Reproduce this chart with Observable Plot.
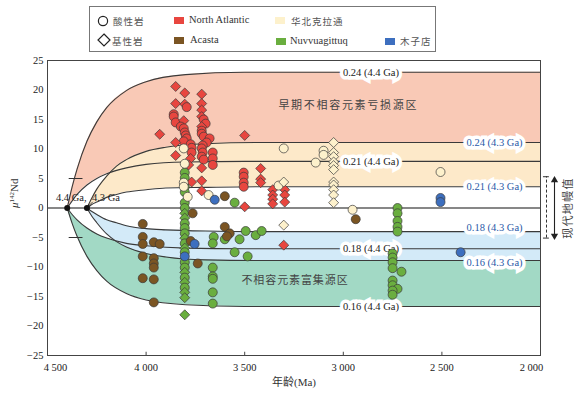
<!DOCTYPE html>
<html><head><meta charset="utf-8">
<script src="https://cdn.jsdelivr.net/npm/d3@7"></script>
<script src="https://cdn.jsdelivr.net/npm/@observablehq/plot@0.6"></script>
<style>
body{margin:0;background:#fff;}
#wrap{position:relative;width:584px;height:397px;overflow:hidden;}
#legend{position:relative;width:584px;height:56px;font-family:"Liberation Serif","Times New Roman","DejaVu Serif","Noto Sans CJK SC",serif;}
#legend .box{position:absolute;left:89px;top:6px;width:347px;height:46px;border:1px solid #777;box-sizing:border-box;}
#legend .item{position:absolute;font-size:10.5px;color:#333;line-height:12px;white-space:nowrap;}
#legend .cjk{font-family:"Noto Sans CJK SC",sans-serif;font-size:9.5px;letter-spacing:1px;color:#555;}
#legend .sw{position:absolute;width:10px;height:7px;}
#legend svg{position:absolute;overflow:visible;}
#chart svg{display:block;font-family:"Liberation Serif","Times New Roman","DejaVu Serif","Noto Sans CJK SC",serif !important;font-size:10.5px !important;}
</style></head>
<body>
<div id="wrap"><div id="legend"><div class="box"></div></div><div id="chart"></div></div>
<script>
// ---------- data ----------
// model evolution curves (age in Ma, mu142Nd)
const ages44 = [4400,4375,4350,4300,4250,4200,4100,4000,3800,3500,3000,2000];
const ages43 = [4300,4275,4250,4200,4150,4100,4000,3900,3700,3400,2900,2000];
const mu024_44 = [0,3.6,6.6,11.3,14.6,17.0,19.9,21.4,22.6,23.0,23.0,23.0];
const mu021_44 = [0,1.2,2.3,3.9,5.0,5.8,6.8,7.4,7.8,7.9,7.9,7.9];
const mu018_44 = [0,-1.1,-2.0,-3.4,-4.4,-5.1,-6.0,-6.4,-6.8,-6.9,-6.9,-6.9];
const mu016_44 = [0,-2.6,-4.8,-8.2,-10.6,-12.4,-14.5,-15.6,-16.4,-16.7,-16.7,-16.7];
const mu024_43 = [0,1.7,3.2,5.4,7.1,8.2,9.6,10.3,10.9,11.1,11.1,11.1];
const mu021_43 = [0,0.6,1.0,1.8,2.3,2.7,3.1,3.4,3.5,3.6,3.6,3.6];
const mu018_43 = [0,-0.6,-1.1,-2.0,-2.5,-3.0,-3.5,-3.7,-3.9,-4.0,-4.0,-4.0];
const mu016_43 = [0,-1.4,-2.5,-4.4,-5.7,-6.6,-7.7,-8.3,-8.8,-8.9,-8.9,-8.9];

const curveLabels44 = ["0.24 (4.4 Ga)","0.21 (4.4 Ga)","0.18 (4.4 Ga)","0.16 (4.4 Ga)"];
const curveLabelMu44 = [23.0, 7.9, -6.9, -16.7];
const curveLabelAge44 = 2860;
const curveLabels43 = ["0.24 (4.3 Ga)","0.21 (4.3 Ga)","0.18 (4.3 Ga)","0.16 (4.3 Ga)"];
const curveLabelMu43 = [11.1, 3.6, -3.4, -9.2];
const curveLabelAge43 = 2233;

const startAges = [4400, 4300];
const startLabels = ["4.4 Ga,", "4.3 Ga"];
const pointerFrom = [4272, 1.0];
const pointerTo = [4294, 0.25];

const regionTexts = ["早期不相容元素亏损源区", "不相容元素富集源区"];
const regionTextAge = [2975, 3245];
const regionTextMu = [17.4, -12.3];

const mantleRange = [-5.1, 5.3];
const mantleArrow = [-4.7, 4.7];
const mantleText = "现代地幔值";

const xTicks = [4500,4000,3500,3000,2500,2000];
const yTicks = [-25,-20,-15,-10,-5,0,5,10,15,20,25];

// samples: [age (Ma), mu142Nd, type c=酸性岩 circle, d=基性岩 diamond]
const northAtlantic = [
 [3850,20.6,"d"],[3804,19.5,"d"],[3850,17.7,"d"],[3804,17.6,"d"],[3794,17.1,"c"],
 [3860,15.9,"c"],[3860,15.5,"c"],[3850,14.5,"c"],[3809,14.8,"d"],[3824,13.8,"c"],
 [3809,13.5,"c"],[3804,12.8,"c"],[3799,12.3,"c"],[3794,11.8,"c"],[3809,11.3,"c"],
 [3931,12.5,"d"],[3850,11.1,"d"],[3774,10.8,"c"],[3769,10.2,"c"],[3769,9.4,"c"],
 [3850,8.9,"d"],[3774,8.4,"d"],[3784,7.3,"d"],[3769,4.4,"d"],
 [3718,19.3,"d"],[3718,17.7,"d"],[3718,16.6,"d"],[3718,15.5,"d"],[3708,15.0,"c"],
 [3698,14.3,"c"],[3718,13.8,"d"],[3718,13.1,"c"],[3718,12.6,"c"],[3708,12.1,"c"],
 [3678,11.8,"c"],[3693,11.1,"c"],[3713,10.6,"c"],[3718,10.1,"c"],[3713,9.4,"c"],
 [3718,8.7,"c"],[3708,8.2,"c"],[3662,9.4,"c"],[3662,8.4,"c"],[3662,7.3,"c"],
 [3718,6.8,"d"],[3718,4.6,"d"],[3718,2.9,"d"],
 [3500,12.3,"d"],[3505,6.0,"c"],[3505,5.3,"c"],[3505,4.3,"c"],[3505,3.6,"c"],
 [3419,6.7,"d"],[3419,4.9,"d"],[3419,4.3,"d"],
 [3358,3.1,"d"],[3358,2.2,"d"],[3358,1.5,"d"],[3358,0.7,"d"],
 [3297,3.1,"d"],[3297,2.2,"d"],[3297,1.0,"d"],[3500,0.2,"d"],[3302,-6.3,"d"]
];
const northChina = [
 [3809,10.1,"c"],[3804,7.5,"c"],[3809,4.3,"c"],[3809,3.6,"c"],[3789,1.9,"c"],[3683,2.2,"c"],
 [3302,10.1,"c"],[3328,3.8,"c"],[3302,4.4,"d"],[3302,-2.9,"d"],
 [3140,7.7,"c"],[3100,9.7,"c"],[3100,9.0,"c"],
 [3049,11.1,"d"],[3049,9.4,"d"],[3049,8.7,"d"],[3049,7.8,"d"],[3049,7.2,"d"],[3049,6.5,"d"],
 [3049,4.4,"d"],[3049,3.9,"d"],[3049,3.1,"d"],[3049,2.2,"d"],[3049,0.9,"d"],
 [2953,-0.3,"c"],[2507,6.1,"c"]
];
const acasta = [
 [3601,2.0,"c"],[3764,-0.9,"c"],[4017,-2.7,"c"],[4017,-4.9,"c"],[4017,-6.1,"c"],[4017,-8.2,"c"],[4017,-11.9,"c"],
 [3961,-5.8,"c"],[3931,-6.1,"c"],[3961,-8.5,"c"],[3961,-9.4,"c"],[3961,-10.1,"c"],[3961,-12.1,"c"],[3961,-16.0,"c"],
 [3774,-5.6,"c"],[3738,-9.4,"c"],[3601,-3.2,"c"],[3576,-4.3,"c"],[3590,-4.8,"c"],[2937,-1.9,"c"]
];
const nuvvuagittuq = [
 [3804,6.0,"c"],[3804,5.1,"c"],[3804,3.6,"c"],[3804,2.7,"c"],[3804,0.9,"c"],[3804,0,"c"],
 [3804,-0.9,"d"],[3804,-1.7,"d"],[3804,-2.6,"c"],[3804,-3.4,"c"],[3804,-4.3,"c"],[3804,-5.1,"d"],
 [3804,-6.0,"c"],[3804,-6.8,"d"],[3804,-7.5,"c"],[3804,-9.2,"c"],[3804,-10.1,"c"],[3804,-10.9,"d"],
 [3804,-11.8,"c"],[3804,-12.6,"d"],[3804,-13.5,"c"],[3804,-14.3,"d"],[3804,-15.2,"d"],[3804,-18.1,"d"],
 [3551,0.9,"c"],[3662,-10.1,"c"],[3662,-11.6,"c"],[3662,-12.0,"c"],[3662,-14.3,"c"],[3662,-16.2,"c"],
 [3657,-4.9,"c"],[3662,-6.0,"c"],[3601,-5.3,"c"],[3526,-5.3,"c"],[3495,-3.9,"c"],[3444,-4.6,"c"],
 [3414,-3.9,"c"],[3551,-7.5,"c"],[3485,-8.2,"c"],
 [2725,0,"c"],[2725,-0.9,"c"],[2725,-2.2,"c"],[2725,-3.2,"c"],[2725,-4.0,"c"],
 [2750,-7.7,"c"],[2750,-8.4,"c"],[2750,-9.2,"c"],[2750,-10.2,"c"],[2705,-10.8,"c"],
 [2750,-12.3,"c"],[2750,-13.1,"c"],[2725,-13.7,"c"],[2750,-14.0,"c"],[2750,-14.7,"c"]
];
const muzidian = [
 [3652,1.4,"c"],[3754,-6.1,"c"],[3804,-8.2,"c"],[2507,1.7,"c"],[2507,1.0,"c"],[2405,-7.5,"c"]
];

const regionNames = ["North Atlantic","华北克拉通","Acasta","Nuvvuagittuq","木子店"];
const regionColors = ["#e8463f","#fdf1cc","#7b5523","#6aae3f","#3d6fbf"];

// ---------- build ----------
const colorOf = Object.fromEntries(regionNames.map((n,i)=>[n, regionColors[i]]));
const drawOrder = [["Nuvvuagittuq", nuvvuagittuq],["Acasta", acasta],["North Atlantic", northAtlantic],["华北克拉通", northChina],["木子店", muzidian]];
const points = drawOrder.flatMap(([name, arr]) => arr.map(([age, mu, t]) => ({age, mu, t, color: colorOf[name]})));

const band = (ages, lo, hi) => ages.map((a,i)=>({age:a, lo:lo[i], hi:hi[i]}));
const curve = (ages, mu) => ages.map((a,i)=>({age:a, mu:mu[i]}));
const curves = [
  curve(ages44, mu024_44), curve(ages44, mu021_44), curve(ages44, mu018_44), curve(ages44, mu016_44),
  curve(ages43, mu024_43), curve(ages43, mu021_43), curve(ages43, mu018_43), curve(ages43, mu016_43)
];
const lab44 = curveLabels44.map((t,i)=>({t, age: curveLabelAge44, mu: curveLabelMu44[i]}));
const lab43 = curveLabels43.map((t,i)=>({t, age: curveLabelAge43, mu: curveLabelMu43[i]}));
const regLab = regionTexts.map((t,i)=>({t, age: regionTextAge[i], mu: regionTextMu[i]}));
const fmt = d => { const s = d3.format(",")(Math.abs(d)).replace(",", " "); return d < 0 ? "−" + s : s; };
const cjk = '"Noto Sans CJK SC",sans-serif';
const mc = "monotone-x";

const plot = Plot.plot({
  width: 584, height: 341,
  marginTop: 4, marginBottom: 42, marginLeft: 47, marginRight: 44,
  x: {domain: [4500, 2000], label: null},
  y: {domain: [-25, 25], label: null},
  style: "background: white; overflow: visible; color: #222;",
  marks: [
    Plot.areaY(band(ages44, mu021_44, mu024_44), {x: "age", y1: "lo", y2: "hi", fill: "#f9c9b6", curve: mc}),
    Plot.areaY(band(ages44, mu016_44, mu018_44), {x: "age", y1: "lo", y2: "hi", fill: "#a2d9c5", curve: mc}),
    Plot.areaY(band(ages43, mu021_43, mu024_43), {x: "age", y1: "lo", y2: "hi", fill: "#fde9c9", curve: mc}),
    Plot.areaY(band(ages43, mu016_43, mu018_43), {x: "age", y1: "lo", y2: "hi", fill: "#d3eaf8", curve: mc}),
    Plot.ruleY([0], {stroke: "#111", strokeWidth: 1.1}),
    ...curves.map(c => Plot.line(c, {x: "age", y: "mu", stroke: "#3a3a3a", strokeWidth: 1.1, curve: mc})),
    Plot.ruleY([5, -5], {x1: 4390, x2: 4320, stroke: "#333"}),
    Plot.text(lab44, {x: "age", y: "mu", text: "t", fill: "#222", stroke: "white", strokeWidth: 7, strokeLinejoin: "miter", paintOrder: "stroke", fontSize: 10.5}),
    Plot.text(lab43, {x: "age", y: "mu", text: "t", fill: "#2a5aa8", stroke: "white", strokeWidth: 7, strokeLinejoin: "miter", paintOrder: "stroke", fontSize: 10.5}),
    Plot.dot(points, {x: "age", y: "mu", fill: "color", symbol: d => d.t === "d" ? "diamond2" : "circle", r: 4.5, stroke: "#3a3a3a", strokeWidth: 0.7}),
    Plot.arrow([0], {x1: () => pointerFrom[0], y1: () => pointerFrom[1], x2: () => pointerTo[0], y2: () => pointerTo[1], stroke: "#222", strokeWidth: 0.8, headLength: 4}),
    Plot.dot(startAges, {x: d => d, y: () => 0, r: 3, fill: "#111"}),
    Plot.text([{t: startLabels[0], age: startAges[0]}], {x: "age", y: () => 0, text: "t", dy: -10, dx: 4, fontSize: 10.5, fill: "#222"}),
    Plot.text([{t: startLabels[1], age: startAges[1]}], {x: "age", y: () => 0, text: "t", dy: -10, dx: 19, fontSize: 10.5, fill: "#222"}),
    Plot.text(regLab, {x: "age", y: "mu", text: "t", fontFamily: cjk, fontSize: 11, fill: "#444"}),
    // modern mantle annotation
    Plot.ruleX([2000], {y1: mantleRange[0], y2: mantleRange[1], dx: 6, stroke: "#333", strokeDasharray: "3,2"}),
    Plot.ruleY(mantleRange, {x1: 1985, x2: 1955, stroke: "#333"}),
    Plot.ruleX([2000], {y1: mantleArrow[0], y2: mantleArrow[1], dx: 14, stroke: "#222", strokeWidth: 1.1}),
    Plot.dot(mantleArrow, {x: () => 2000, y: d => d, dx: 14, symbol: "triangle", rotate: d => d > 0 ? 0 : 180, r: 2.7, fill: "#222"}),
    Plot.text([mantleText], {x: () => 2000, y: () => 0, text: d => d, dx: 28, rotate: -90, fontFamily: cjk, fontSize: 11, fill: "#444"}),
    // axes
    Plot.frame({stroke: "#444"}),
    Plot.ruleX(xTicks, {y1: -25, y2: -24.45, stroke: "#444"}),
    Plot.axisX(xTicks.slice(1, -1), {tickSize: 0, tickPadding: 8, tickFormat: fmt, label: null, fontSize: 10.5}),
    Plot.axisX(xTicks.slice(0, 1), {tickSize: 0, tickPadding: 8, tickFormat: fmt, label: null, dx: 8, fontSize: 10.5}),
    Plot.axisX(xTicks.slice(-1), {tickSize: 0, tickPadding: 8, tickFormat: fmt, label: null, dx: -9, fontSize: 10.5}),
    Plot.axisY(yTicks, {tickSize: 0, tickPadding: 4, tickFormat: fmt, label: null, fontSize: 10.5}),
    Plot.text(["年龄(Ma)"], {frameAnchor: "bottom", dy: 30, fontSize: 11, fill: "#333"}),
    Plot.text(["μ142Nd"], {frameAnchor: "left", dx: -33, rotate: -90, fontSize: 11, fill: "#333"})
  ]
});
document.getElementById("chart").appendChild(plot);

// post-process text styling
d3.select(plot).selectAll("text").each(function() {
  const s = this.textContent;
  if (s === "μ142Nd") {
    this.innerHTML = '<tspan font-style="italic">μ</tspan><tspan font-size="7" dy="-4">142</tspan><tspan dy="4">Nd</tspan>';
  } else if (s === regionTexts[0]) {
    this.setAttribute("letter-spacing", "1.7");
  } else if (s === regionTexts[1]) {
    this.setAttribute("letter-spacing", "0.9");
  } else if (s === mantleText) {
    this.setAttribute("letter-spacing", "1.3");
  }
});

// ---------- legend ----------
const legend = document.getElementById("legend");
function add(html, style, cls) {
  const el = document.createElement("div");
  el.className = cls || "item";
  el.innerHTML = html;
  Object.assign(el.style, style);
  legend.appendChild(el);
  return el;
}
const symSvg = (path) => `<svg width="14" height="14" viewBox="-7 -7 14 14">${path}</svg>`;
add(symSvg('<circle r="4.6" fill="white" stroke="#222" stroke-width="1.2"/>'), {left: "96px", top: "14px"});
add(symSvg('<path d="M0,-6L6,0L0,6L-6,0Z" fill="white" stroke="#222" stroke-width="1.2"/>'), {left: "97px", top: "33px"});
add("酸性岩", {left: "113px", top: "15px"}, "item cjk");
add("基性岩", {left: "112px", top: "35px"}, "item cjk");
const legendPos = [
  {name: "North Atlantic", sx: 174, sy: 17, tx: 189, ty: 14},
  {name: "华北克拉通", sx: 275, sy: 17, tx: 291, ty: 15},
  {name: "Acasta", sx: 174, sy: 37, tx: 190, ty: 34},
  {name: "Nuvvuagittuq", sx: 276, sy: 38, tx: 290, ty: 35},
  {name: "木子店", sx: 385, sy: 38, tx: 400, ty: 35}
];
legendPos.forEach(p => {
  add("", {left: p.sx + "px", top: p.sy + "px", background: colorOf[p.name]}, "sw");
  const isCjk = /[\u4e00-\u9fff]/.test(p.name);
  add(p.name, {left: p.tx + "px", top: p.ty + "px"}, isCjk ? "item cjk" : "item");
});
</script>
</body></html>
